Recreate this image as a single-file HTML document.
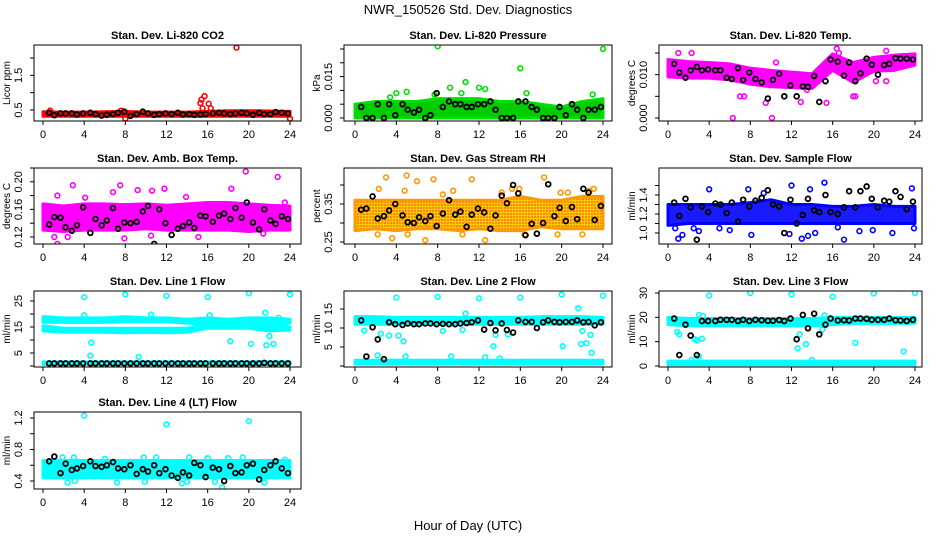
<!DOCTYPE html>
<html><head><meta charset="utf-8"><style>
html,body{margin:0;padding:0;background:#fff;}
svg{display:block;font-family:"Liberation Sans",sans-serif;}
</style></head><body>
<svg id="chart" width="936" height="540" viewBox="0 0 936 540">
<defs>
<pattern id="rhpat" width="3" height="3" patternUnits="userSpaceOnUse"><rect width="3" height="3" fill="#ffcc00"/><rect width="2" height="2" fill="#ff8800"/></pattern>
</defs>
<text x="468" y="14" text-anchor="middle" font-size="13">NWR_150526  Std. Dev. Diagnostics</text>
<text x="468" y="530" text-anchor="middle" font-size="13">Hour of Day (UTC)</text>
</svg>
<script>
const bandHours=[0,2,4,6,8,10,12,14,16,18,20,22,24];
const blackHours=[0.6,1.1,1.7,2.2,2.8,3.3,3.9,4.6,5.1,5.7,6.2,6.8,7.3,7.9,8.5,9.1,9.7,10.2,10.8,11.3,11.9,12.5,13.1,13.6,14.2,14.7,15.3,15.8,16.5,17.1,17.6,18.2,18.7,19.3,19.8,20.4,21.0,21.5,22.1,22.6,23.2,23.8];
const xTicks=[0,4,8,12,16,20,24];

const co2Lo=[0.32,0.32,0.32,0.32,0.32,0.32,0.32,0.32,0.32,0.32,0.32,0.32,0.32];
const co2Hi=[0.45,0.44,0.44,0.45,0.46,0.44,0.44,0.44,0.46,0.48,0.48,0.47,0.46];
const co2Out=[[15.3,0.7],[15.4,0.8],[15.7,0.9],[15.5,0.55],[16.1,0.68],[16.3,0.55],[18.8,2.3],[24,0.25],[8,0.25],[0.7,0.48],[7.6,0.48]];
const co2Black=[0.42,0.35,0.4,0.4,0.4,0.37,0.4,0.42,0.38,0.34,0.36,0.38,0.42,0.45,0.33,0.38,0.45,0.4,0.36,0.38,0.4,0.38,0.42,0.37,0.38,0.36,0.37,0.38,0.4,0.42,0.4,0.38,0.4,0.42,0.4,0.36,0.42,0.38,0.38,0.44,0.42,0.4];

const presLo=[0,0,0,0,0,0,0,0,0,0,0,0,0];
const presHi=[0.005,0.006,0.006,0.006,0.007,0.007,0.007,0.006,0.006,0.005,0.004,0.006,0.007];
const presOut=[[8,0.026],[24,0.025],[16,0.018],[10.7,0.013],[12,0.011],[12.6,0.0105],[5,0.0095],[4,0.009],[9.2,0.011],[10.3,0.009],[3.4,0.0075],[16.6,0.009],[23,0.0085],[7.7,0.0085]];
const presBlack=[0.004,0,0,0.005,0,0.005,0.001,0.005,0.003,0.002,0.003,0,0.001,0.009,0.004,0.006,0.005,0.005,0.004,0.004,0.005,0.005,0.006,0.003,0,0,0,0.006,0.006,0.004,0.003,0,0,0,0.004,0.001,0.005,0.003,0,0.003,0.003,0.004];

const tempLo=[0.0095,0.0092,0.0092,0.0088,0.0078,0.0072,0.007,0.0068,0.011,0.0082,0.0108,0.011,0.0122];
const tempHi=[0.0135,0.013,0.0128,0.0125,0.0115,0.011,0.0106,0.0102,0.0148,0.0128,0.014,0.0145,0.0148];
const tempOut=[[6.3,0],[10.1,0],[18,0.005],[18.2,0.005],[1,0.015],[2.3,0.015],[16.4,0.016],[16.6,0.015],[21.2,0.0155],[7,0.005],[7.4,0.005],[9.5,0.0035],[15.4,0.0035],[12.9,0.0037],[10.5,0.0128],[20.2,0.0085],[21.2,0.0085],[13.5,0.0065]];
const tempBlack=[0.0125,0.0105,0.0093,0.011,0.0118,0.011,0.0112,0.011,0.011,0.0093,0.009,0.0115,0.0088,0.0105,0.009,0.0082,0.0045,0.0088,0.0102,0.005,0.0075,0.005,0.0073,0.0072,0.0097,0.0037,0.0085,0.0135,0.013,0.0098,0.0128,0.0085,0.0103,0.0137,0.0123,0.01,0.0122,0.0125,0.0138,0.0137,0.0137,0.0135];

const boxLo=[0.13,0.128,0.13,0.13,0.13,0.132,0.13,0.13,0.13,0.13,0.128,0.13,0.13];
const boxHi=[0.168,0.165,0.168,0.168,0.167,0.168,0.166,0.168,0.17,0.17,0.168,0.166,0.165];
const boxOut=[[2.9,0.195],[1.4,0.18],[4.1,0.177],[7.5,0.195],[9.2,0.188],[11.8,0.19],[10.6,0.187],[19.7,0.215],[22.8,0.207],[23.5,0.17],[18.3,0.19],[1.1,0.12],[1.4,0.11],[2.4,0.12],[7.9,0.118],[10.5,0.122],[15.1,0.12],[21.4,0.125],[6.8,0.185],[13.9,0.178]];
const boxBlack=[0.138,0.149,0.148,0.134,0.129,0.137,0.163,0.126,0.146,0.137,0.144,0.162,0.132,0.141,0.140,0.142,0.157,0.165,0.110,0.160,0.140,0.123,0.132,0.136,0.141,0.133,0.151,0.150,0.142,0.151,0.154,0.146,0.162,0.148,0.170,0.141,0.131,0.160,0.144,0.139,0.150,0.146];

const rhLo=[0.28,0.285,0.28,0.285,0.285,0.28,0.285,0.28,0.28,0.29,0.285,0.285,0.285];
const rhHi=[0.36,0.36,0.36,0.36,0.36,0.36,0.36,0.36,0.37,0.36,0.36,0.37,0.37];
const rhOut=[[3,0.42],[5,0.425],[6,0.41],[7.6,0.415],[11.3,0.415],[18.3,0.42],[2.3,0.39],[4.8,0.385],[9.5,0.385],[15.2,0.39],[15.9,0.39],[19.9,0.38],[20.6,0.38],[23.1,0.39],[22.7,0.385],[3.6,0.26],[6.8,0.255],[12.6,0.255],[2.2,0.27],[10.4,0.27],[16.4,0.27],[19.6,0.27],[22,0.27],[5.1,0.27],[8.5,0.375],[14.2,0.38]];
const rhBlack=[0.335,0.338,0.37,0.312,0.318,0.333,0.35,0.32,0.302,0.30,0.315,0.305,0.318,0.292,0.325,0.36,0.322,0.33,0.29,0.322,0.338,0.328,0.285,0.32,0.372,0.352,0.40,0.378,0.268,0.298,0.272,0.30,0.402,0.318,0.34,0.305,0.342,0.31,0.39,0.38,0.308,0.345];

const flowLo=[1.08,1.1,1.1,1.1,1.1,1.1,1.1,1.1,1.1,1.1,1.1,1.1,1.1];
const flowHi=[1.3,1.3,1.3,1.3,1.32,1.35,1.3,1.3,1.28,1.28,1.3,1.28,1.28];
const flowOut=[[0.7,1.05],[1,0.94],[1.4,0.98],[2.5,1.05],[3,1.02],[4,1.46],[7.8,1.46],[12,1.5],[15.2,1.53],[17.1,0.93],[8.1,0.98],[11.8,0.99],[13,0.94],[13.6,0.97],[14.3,1.0],[18.6,1.02],[21.8,1.0],[23.7,1.47],[23.9,1.05],[9.3,1.42],[13.8,1.46],[6,1.03],[5,1.05],[19.9,1.03],[16.5,1.06]];
const flowBlack=[1.32,1.18,1.36,1.27,0.93,1.28,1.22,1.31,1.30,1.21,1.32,1.12,1.35,1.28,1.34,1.37,1.45,1.30,1.28,1.0,1.35,1.10,1.19,1.36,1.24,1.22,1.40,1.22,1.20,1.27,1.44,1.27,1.44,1.49,1.36,1.27,1.34,1.33,1.44,1.38,1.25,1.33];

const l1UpLo=[16.8,16.8,16.8,16.8,17,17,17,16.5,16,16,16,14.5,16.5];
const l1UpHi=[19,18.5,18.5,18.5,19,18.5,18.5,18,18.5,18,18.5,18.5,18];
const l1LowLo=[13.5,13,13,13,12.8,13,12.8,13,14.5,14.5,14.5,13.5,13.8];
const l1LowHi=[15.5,14.5,14.5,14.5,14.5,14.5,14.5,14.5,16.2,16.2,16,15.5,15];
const l1BaseLo=[0.6,0.6,0.6,0.6,0.6,0.6,0.6,0.6,0.6,0.6,0.6,0.6,0.6];
const l1BaseHi=[1.6,1.6,1.6,1.6,1.6,1.6,1.6,1.6,1.6,1.6,1.6,1.6,1.6];
const l1Out=[[4,26.5],[8,27.5],[12,27],[16,26.5],[20,28],[24,27.5],[4.7,9],[4.6,4],[9.3,3.5],[18.2,9.5],[20.2,8.5],[21.7,8],[22.4,8.5],[22,11.5],[21.6,20.5],[10.5,19.8],[4,19.5],[16.2,19.5],[22.9,18.5]];
const l1Black=[1,1,1,1,1,1,1,1,1,1,1,1,1,1,1,1,1,1,1,1,1,1,1,1,1,1,1,1,1,1,1,1,1,1,1,1,1,1.2,1,1,1,1];

const l2Lo=[11,11,11,11,11,11,11,11,11,11,11,11,11];
const l2Hi=[13,13,12.8,12.8,12.8,12.8,12.8,12.8,12.8,13,13,13,12.8];
const l2BaseLo=[0.5,0.5,0.5,0.5,0.5,0.5,0.5,0.5,0.5,0.5,0.5,0.5,0.5];
const l2BaseHi=[1.5,1.5,1.5,1.5,1.5,1.5,1.5,1.5,1.5,1.5,1.5,1.5,1.5];
const l2Out=[[4,18],[8,18.2],[12,17.8],[16,18],[20,18.8],[24,18.5],[0.9,9.3],[2.2,2.8],[2.5,8.5],[3.3,8],[4.2,8],[4.7,6.5],[4.9,2.5],[9.3,2.5],[12.6,2.3],[13.4,5.2],[13.6,8.2],[14,2],[10.4,9.5],[8.5,9.2],[14.8,8.3],[20.1,5.2],[21.6,15.2],[21.9,5.8],[22.4,6],[22.9,3.5],[22.8,8.2],[22,9.2],[10.7,13.8]];
const l2Black=[12,2.5,10.2,7,1.8,11.5,11,10.8,11.2,11,11,11.2,11.2,11,11.1,11,11,11.2,11.3,11.5,12,9.6,11.3,9.4,11.2,9.5,8.8,12,11.6,11.6,10,11.5,12,11.6,11.5,11.6,11.6,12,11.5,11.6,10.7,11.5];

const l3Lo=[17,16.5,16.5,16.5,16.5,16.5,16.5,16.5,17,17.5,17.5,17.5,17.5];
const l3Hi=[20,19.5,19.5,19.5,19.5,19.5,19.5,19.5,20,20,20,20,20];
const l3BaseLo=[0.5,0.5,0.5,0.5,0.5,0.5,0.5,0.5,0.5,0.5,0.5,0.5,0.5];
const l3BaseHi=[2,2,2,2,2,2,2,2,2,2,2,2,2];
const l3Out=[[4,29],[8,30],[12,29.5],[16,28.5],[20,29.8],[24,30],[0.9,14],[1.1,13],[2.6,11],[2.8,10.5],[3.3,11.2],[3,21],[3.4,20.5],[2.3,2.5],[3,4],[12.6,7.3],[12.8,13],[13.4,9],[14,2.5],[15,15],[15.2,20.8],[18.2,9.5],[22.9,6],[1.6,18.5],[2.4,19]];
const l3Black=[19.5,4.5,17,12.5,4.5,18.5,18.5,18.5,19,19,19,18.5,19,18.5,19,18.8,18.6,18.6,18.9,18.5,19.5,11,21,15.5,21.5,13,17,19.5,18.7,18.8,18.7,19.5,19.5,19.4,19,19,19,19.5,18.8,18.7,18.5,19];

const l4Lo=[0.44,0.44,0.44,0.44,0.44,0.44,0.44,0.44,0.44,0.44,0.44,0.44,0.44];
const l4Hi=[0.66,0.66,0.66,0.66,0.66,0.66,0.66,0.66,0.66,0.66,0.66,0.66,0.66];
const l4Out=[[4,1.23],[12,1.12],[20,1.16],[3,0.7],[1.9,0.7],[9.8,0.7],[11,0.7],[14.2,0.7],[16,0.69],[18,0.69],[19.4,0.7],[2.4,0.38],[3.1,0.4],[7.2,0.38],[9.9,0.39],[13.5,0.37],[14,0.39],[17.4,0.32],[16.7,0.39],[21.5,0.38],[23.5,0.67],[6,0.68]];
const l4Black=[0.65,0.71,0.5,0.62,0.54,0.56,0.59,0.65,0.59,0.58,0.6,0.64,0.56,0.55,0.6,0.49,0.55,0.52,0.6,0.5,0.55,0.47,0.44,0.51,0.47,0.63,0.6,0.45,0.57,0.55,0.4,0.59,0.5,0.51,0.6,0.62,0.42,0.54,0.6,0.65,0.56,0.5];

const yTicksCO2=[0.5,1,1.5,2], yLabCO2=["0.5","","1.5",""];
const yTicksPres=[0,0.005,0.01,0.015,0.02,0.025], yLabPres=["0.000","","","0.015","",""];
const yTicksTemp=[0,0.005,0.01,0.015], yLabTemp=["0.000","","0.010",""];
const yTicksBox=[0.12,0.14,0.16,0.18,0.2,0.22], yLabBox=["0.12","","0.16","","0.20",""];
const yTicksRH=[0.25,0.3,0.35,0.4], yLabRH=["0.25","","0.35",""];
const yTicksFlow=[1.0,1.1,1.2,1.3,1.4,1.5], yLabFlow=["1.0","","1.2","","1.4",""];
const yTicksL1=[0,5,10,15,20,25], yLabL1=["","5","","15","","25"];
const yTicksL2=[0,5,10,15], yLabL2=["","5","10","15"];
const yTicksL3=[0,10,20,30], yLabL3=["0","10","20","30"];
const yTicksL4=[0.4,0.6,0.8,1.0,1.2], yLabL4=["0.4","","0.8","","1.2"];

const NS="http://www.w3.org/2000/svg";
const svg=document.getElementById('chart');
const colL=[34,344,659], colR=[301,612,922], colX0=[43,355,668], colX24=[290,603,915];
const rowT=[45,168,291,412], rowB=[121,244,367,489];

function mk(tag,attrs,parent){const e=document.createElementNS(NS,tag);for(const k in attrs)e.setAttribute(k,attrs[k]);(parent||svg).appendChild(e);return e;}

const panels=[
 {id:'co2',title:'Stan. Dev. Li-820 CO2',ylab:'Licor ppm',c:0,r:0,col:'#ff0000',fill:'#ff0000',bands:[[co2Lo,co2Hi]],out:co2Out,blk:co2Black,ticks:yTicksCO2,labs:yLabCO2,v0:0.5,p0:110,v1:2.0,p1:58},
 {id:'pressure',title:'Stan. Dev. Li-820 Pressure',ylab:'kPa',c:1,r:0,col:'#00e000',fill:'#00cc00',bands:[[presLo,presHi]],out:presOut,blk:presBlack,ticks:yTicksPres,labs:yLabPres,v0:0,p0:118,v1:0.025,p1:49},
 {id:'temp',title:'Stan. Dev. Li-820 Temp.',ylab:'degrees C',c:2,r:0,col:'#ff00ff',fill:'#ff00ff',bands:[[tempLo,tempHi]],out:tempOut,blk:tempBlack,ticks:yTicksTemp,labs:yLabTemp,v0:0,p0:118,v1:0.015,p1:53},
 {id:'box-temp',title:'Stan. Dev. Amb. Box Temp.',ylab:'degrees C',c:0,r:1,col:'#ff00ff',fill:'#ff00ff',bands:[[boxLo,boxHi]],out:boxOut,blk:boxBlack,ticks:yTicksBox,labs:yLabBox,v0:0.12,p0:237,v1:0.22,p1:168},
 {id:'rh',title:'Stan. Dev. Gas Stream RH',ylab:'percent',c:1,r:1,col:'#ff9900',fill:'url(#rhpat)',bands:[[rhLo,rhHi]],out:rhOut,blk:rhBlack,ticks:yTicksRH,labs:yLabRH,v0:0.25,p0:242,v1:0.40,p1:185},
 {id:'sample-flow',title:'Stan. Dev. Sample Flow',ylab:'ml/min',c:2,r:1,col:'#0000ff',fill:'#1a1aff',bands:[[flowLo,flowHi]],out:flowOut,blk:flowBlack,ticks:yTicksFlow,labs:yLabFlow,v0:1.0,p0:233,v1:1.5,p1:185.5},
 {id:'line1',title:'Stan. Dev. Line 1 Flow',ylab:'ml/min',c:0,r:2,col:'#00ffff',fill:'#00ffff',bands:[[l1UpLo,l1UpHi],[l1LowLo,l1LowHi],[l1BaseLo,l1BaseHi]],out:l1Out,blk:l1Black,ticks:yTicksL1,labs:yLabL1,v0:0,p0:366,v1:25,p1:301},
 {id:'line2',title:'Stan. Dev. Line 2 Flow',ylab:'ml/min',c:1,r:2,col:'#00ffff',fill:'#00ffff',bands:[[l2Lo,l2Hi],[l2BaseLo,l2BaseHi]],out:l2Out,blk:l2Black,ticks:yTicksL2,labs:yLabL2,v0:0,p0:366,v1:15,p1:309},
 {id:'line3',title:'Stan. Dev. Line 3 Flow',ylab:'ml/min',c:2,r:2,col:'#00ffff',fill:'#00ffff',bands:[[l3Lo,l3Hi],[l3BaseLo,l3BaseHi]],out:l3Out,blk:l3Black,ticks:yTicksL3,labs:yLabL3,v0:0,p0:366,v1:30,p1:293},
 {id:'line4',title:'Stan. Dev. Line 4 (LT) Flow',ylab:'ml/min',c:0,r:3,col:'#00ffff',fill:'#00ffff',bands:[[l4Lo,l4Hi]],out:l4Out,blk:l4Black,ticks:yTicksL4,labs:yLabL4,v0:0.4,p0:481,v1:1.2,p1:418}
];

panels.forEach(p=>{
  const L=colL[p.c],R=colR[p.c],T=rowT[p.r],B=rowB[p.r];
  const xs=h=>colX0[p.c]+(colX24[p.c]-colX0[p.c])*h/24;
  const ys=v=>p.p0+(p.p1-p.p0)*(v-p.v0)/(p.v1-p.v0);
  const g=mk('g',{});
  
  
  const cid='clip-'+p.id;
  const cp=mk('clipPath',{id:cid},g); mk('rect',{x:L,y:T,width:R-L,height:B-T},cp);
  const plot=mk('g',{'clip-path':'url(#'+cid+')'},g);
  
  
  p.bands.forEach((b,bi)=>{
    let pts=[];
    bandHours.forEach((h,i)=>pts.push(xs(h)+','+ys(b[1][i])));
    for(let i=bandHours.length-1;i>=0;i--)pts.push(xs(bandHours[i])+','+ys(b[0][i]));
    const poly=mk('polygon',{points:pts.join(' '),fill:p.fill,stroke:p.col,'stroke-width':3,'stroke-linejoin':'round'},plot);
    
    
  });
  p.out.forEach(o=>{
    const c=mk('circle',{cx:xs(o[0]),cy:ys(o[1]),r:2.4,fill:'none',stroke:p.col,'stroke-width':1.6},plot);
    
    
  });
  p.blk.forEach((v,i)=>{
    const c=mk('circle',{cx:xs(blackHours[i]),cy:ys(v),r:2.4,fill:'none',stroke:'#000','stroke-width':1.8},plot);
    
    
  });
  const fr=mk('rect',{x:L,y:T,width:R-L,height:B-T,fill:'none',stroke:'#000','stroke-width':1},g);
  
  
  const t=mk('text',{x:(L+R)/2,y:T-6,'text-anchor':'middle','font-size':11,'font-weight':'bold'},g);
  t.textContent=p.title;
  
  
  xTicks.forEach(h=>{
    mk('line',{x1:xs(h),x2:xs(h),y1:B,y2:B+4,stroke:'#000'},g);
    const tl=mk('text',{x:xs(h),y:B+17,'text-anchor':'middle','font-size':11},g);
    tl.textContent=String(h);
    
    
  });
  p.ticks.forEach((v,i)=>{
    const y=ys(v);
    mk('line',{x1:L-4,x2:L,y1:y,y2:y,stroke:'#000'},g);
    if(p.labs[i]){
      const lx=L-12;
      const tl=mk('text',{x:lx,y:y,'text-anchor':'middle','font-size':11,transform:'rotate(-90 '+lx+' '+y+')'},g);
      tl.textContent=p.labs[i];
      
      
    }
  });
  const ax=L-24, ay=(T+B)/2;
  const yt=mk('text',{x:ax,y:ay,'text-anchor':'middle','font-size':10,transform:'rotate(-90 '+ax+' '+ay+')'},g);
  yt.textContent=p.ylab;
  
  
});
</script>
</body></html>
